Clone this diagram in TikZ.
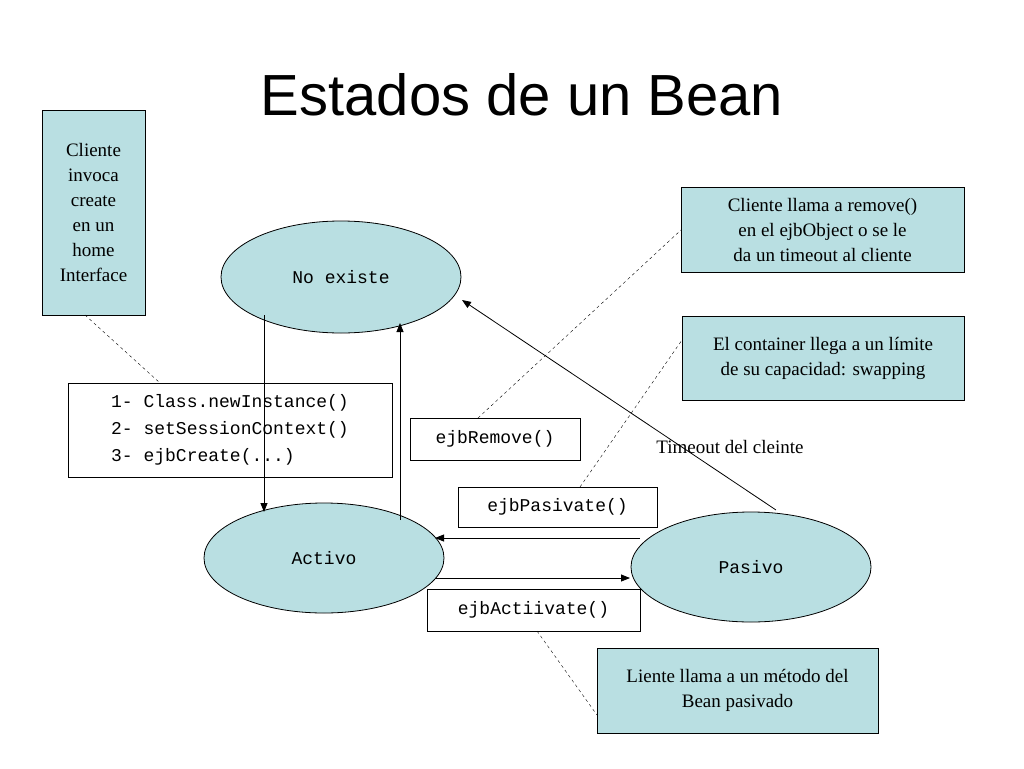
\documentclass[tikz,border=0pt]{standalone}
\usepackage{fontspec}
\setmainfont{Liberation Serif}
\setsansfont{Liberation Sans}
\setmonofont{Liberation Mono}
\usetikzlibrary{shapes.geometric,arrows.meta}
\definecolor{tealf}{HTML}{B9DFE2}
\begin{document}
\begin{tikzpicture}[x=1pt,y=-1pt,
 st/.style={ellipse,draw,fill=tealf,thick,font=\ttfamily\fontsize{18}{20}\selectfont},
 nb/.style={draw,fill=tealf,thick,font=\fontsize{19}{25}\selectfont,align=center},
 wb/.style={draw,fill=white,font=\ttfamily\fontsize{18}{27}\selectfont,align=left},
 ar/.style={-{Triangle[length=9pt,width=7pt]},thick},
 dl/.style={dashed,thin}]
\useasboundingbox (0,0) rectangle (1024,768);
\node[font=\sffamily\fontsize{58}{60}\selectfont] (title) at (522,95) {Estados de un Bean};
\node[nb,minimum width=103,minimum height=205] (cli) at (93.5,212.5) {Cliente\\invoca\\create\\en un\\home\\Interface};
\node[st,minimum width=240,minimum height=112] (ne) at (341,277) {No existe};
\node[st,minimum width=240,minimum height=110] (ac) at (324,558) {Activo};
\node[st,minimum width=240,minimum height=110] (pa) at (751,567) {Pasivo};
\node[nb,minimum width=283,minimum height=85] (r1) at (822.5,229.5) {Cliente llama a remove()\\en el ejbObject o se le\\da un timeout al cliente};
\node[nb,minimum width=282,minimum height=84] (r2) at (823,358) {El container llega a un límite\\de su capacidad: swapping};
\node[nb,minimum width=281,minimum height=85] (r3) at (737.5,690.5) {Liente llama a un método del\\Bean pasivado};
\node[wb,minimum width=324,minimum height=94,inner xsep=16] (m) at (230,430) {1- Class.newInstance()\\2- setSessionContext()\\3- ejbCreate(...)};
\node[wb,minimum width=170,minimum height=42] (er) at (495,439) {ejbRemove()};
\node[wb,minimum width=199,minimum height=40] (ep) at (557.5,507) {ejbPasivate()};
\node[wb,minimum width=213,minimum height=42] (ea) at (533.5,610) {ejbActiivate()};
\node[font=\fontsize{19}{22}\selectfont] (to) at (730,447) {Timeout del cleinte};
\coordinate (a1) at (264,315); \coordinate (a2) at (264,512);
\draw[ar] (a1) -- (a2);
\coordinate (b1) at (400,520); \coordinate (b2) at (400,323);
\draw[ar] (b1) -- (b2);
\coordinate (c1) at (776,510); \coordinate (c2) at (462,300);
\draw[ar] (c1) -- (c2);
\coordinate (d1) at (640,538); \coordinate (d2) at (435,538);
\draw[ar] (d1) -- (d2);
\coordinate (e1) at (435,578); \coordinate (e2) at (630,578);
\draw[ar] (e1) -- (e2);
\coordinate (f1) at (85,315); \coordinate (f2) at (160,383);
\draw[dl] (f1) -- (f2);
\coordinate (g1) at (478,418); \coordinate (g2) at (681,230);
\draw[dl] (g1) -- (g2);
\coordinate (h1) at (580,487); \coordinate (h2) at (682,340);
\draw[dl] (h1) -- (h2);
\coordinate (i1) at (537,631); \coordinate (i2) at (597,715);
\draw[dl] (i1) -- (i2);
\end{tikzpicture}
\end{document}
